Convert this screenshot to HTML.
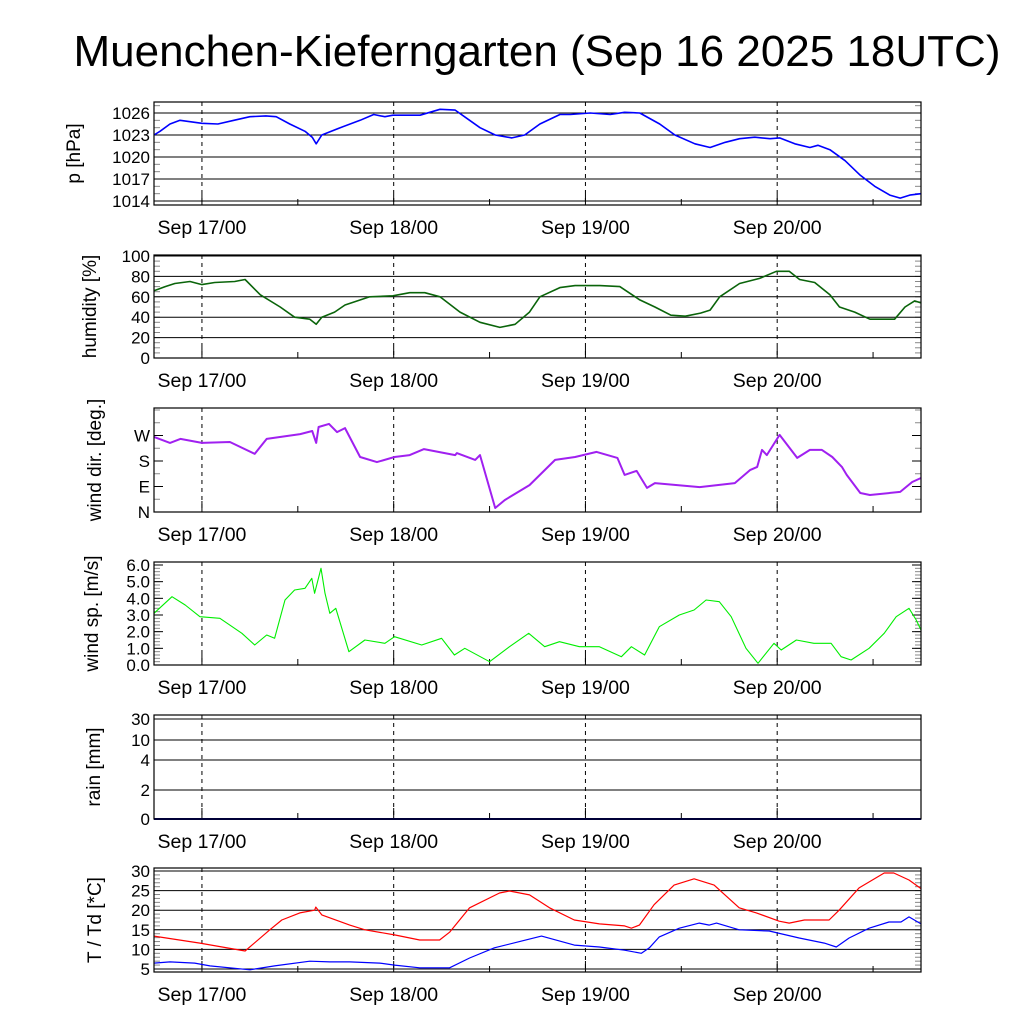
<!DOCTYPE html>
<html><head><meta charset="utf-8"><style>
html,body{margin:0;padding:0;background:#fff}
svg text{font-family:"Liberation Sans",sans-serif;fill:#000}
</style></head><body>
<svg id="chart" xmlns="http://www.w3.org/2000/svg" width="1024" height="1024" viewBox="0 0 1024 1024">
<rect width="1024" height="1024" fill="#fff"/>
<text x="537" y="66" font-size="44" text-anchor="middle">Muenchen-Kieferngarten (Sep 16 2025 18UTC)</text>
<g id="g"></g>
</svg>
<script>
// hours since Sep 16 18UTC
const dayLabels = ["Sep 17/00","Sep 18/00","Sep 19/00","Sep 20/00"];
const dayHours = [6,30,54,78];
const pTicks = [1014,1017,1020,1023,1026];
const humTicks = [0,20,40,60,80,100];
const dirTicks = [0,90,180,270];
const dirLabels = ["N","E","S","W"];
const wsTicks = [0,1,2,3,4,5,6];
const rainTicks = [0,2,4,10,30];
const tTicks = [5,10,15,20,25,30];

const pH = [0,0.75,2,3.25,6,8,10,12,14,15.3,17,18.9,19.8,20.3,21,23.3,25.8,27.5,28.9,29.9,33.3,35.8,37.7,39.5,40.8,42.7,44.8,46.4,48.3,50.8,52.1,54.6,57.1,58.9,60.8,63.3,65.2,67.7,69.6,71.5,73.3,75.2,77.1,78.3,80.2,82.1,83.1,84.6,86.5,88.4,90.2,92.1,93.4,94.6,96];
const pV = [1023,1023.5,1024.5,1025,1024.6,1024.5,1025,1025.5,1025.6,1025.5,1024.5,1023.5,1022.7,1021.8,1023,1024,1025,1025.8,1025.5,1025.7,1025.7,1026.5,1026.4,1025,1024,1023,1022.6,1023,1024.5,1025.8,1025.8,1026,1025.8,1026.1,1026,1024.5,1023,1021.8,1021.3,1022,1022.5,1022.7,1022.5,1022.6,1021.8,1021.3,1021.6,1021,1019.5,1017.5,1016,1014.8,1014.4,1014.8,1015];

const humH = [0,1.4,2.6,4.5,6,7.6,10.1,11.4,13.3,15.8,17.6,19.5,20.3,21,22.6,23.9,27,29.9,32,33.9,35.8,38.3,40.8,43.3,45.2,47,48.3,50.8,52.7,55.8,58.3,60.8,62.7,64.7,66.5,68.4,69.6,70.8,73.3,75.8,77.9,79.5,80.8,82.7,84.6,85.8,87.7,89.6,92.7,94,95.2,96];
const humV = [66,70,73,75,72,74,75,77,62,50,40,38,33,40,45,52,60,61,64,64,60,45,35,30,33,45,60,69,71,71,70,57,50,42,41,44,47,60,73,78,85,85,77,74,62,50,45,38,38,50,56,54];

const dirH = [0,2,3.3,6,9.5,12.6,14.1,18.3,19.8,20.3,20.6,21.9,22.9,23.9,25.8,27.9,30.1,32,33.8,37.7,37.9,40.2,40.8,42.7,43.9,47,50.2,52.7,55.4,58,58.9,60.4,61.7,62.7,68.3,72.7,74.6,75.5,76.1,76.7,78.3,80.5,82.1,83.6,84.9,86.1,86.7,88.4,89.6,93.4,94.9,96];
const dirV = [265,244,258,244,247,205,258,275,286,244,300,311,282,296,194,176,194,201,222,201,208,184,201,14,42,95,184,194,212,191,131,145,85,102,88,102,148,159,219,201,272,191,219,219,194,159,131,67,60,71,106,120];

const wsH = [0,2.25,3.9,5.75,8.25,11,12.6,14.1,15.1,16.4,17.6,18.9,19.75,20.1,20.9,21.4,22,22.75,24.4,26.4,28.9,30.1,33.5,36,37.6,38.9,42,44.5,46.9,48.9,50.75,53.25,55.75,58.5,59.75,61.4,63.25,65.75,67.6,69.1,70.75,72.25,74.1,75.6,77.6,78.5,80.4,82.6,84.75,86,87.25,89.5,91.4,92.9,94.5,95.4,96];
const wsV = [3.1,4.1,3.6,2.9,2.8,1.9,1.2,1.8,1.6,3.9,4.5,4.6,5.2,4.3,5.8,4.3,3.1,3.4,0.8,1.5,1.3,1.7,1.2,1.6,0.6,1.0,0.2,1.1,1.9,1.1,1.4,1.1,1.1,0.5,1.1,0.6,2.3,3.0,3.3,3.9,3.8,2.9,1.0,0.1,1.3,0.9,1.5,1.3,1.3,0.5,0.3,1.0,1.9,2.9,3.4,2.7,2.1];

const rainH = [0,96];
const rainV = [0,0];

const tH = [0,5.75,11.4,14.5,16,18.25,20.1,20.25,21,24.5,26.4,30.1,33.25,35.75,37,39.5,43.25,44.5,47,49.5,52.6,55.75,58.9,59.75,60.75,62.6,65.1,67.6,70.1,73.25,75.4,78.25,79.5,81.4,84.5,85.75,88.25,91.4,92.6,94.5,96];
const tV = [13.4,11.6,9.6,15,17.5,19.3,20,20.8,18.8,16.2,15,13.7,12.4,12.4,14.4,20.6,24.4,24.9,23.9,20.6,17.5,16.5,16,15.4,16.2,21.4,26.4,28,26.4,20.6,19.3,17.2,16.7,17.5,17.5,20,25.7,29.5,29.5,27.7,25.5];
const tdH = [0,2,5.1,7,12,15.1,19.5,22,24.5,28.25,30.1,33.25,37,39.5,42.6,45.75,48.5,52.6,55.75,58.9,61,62,63.25,65.75,68.25,69.5,70.4,73.25,77,80.75,83.9,85.4,87,89.5,92,93.5,94.5,96];
const tdV = [6.5,6.8,6.5,5.8,4.8,5.8,7,6.8,6.8,6.5,6,5.3,5.3,7.8,10.4,12,13.4,11.1,10.6,9.8,9,10.4,13.2,15.4,16.7,16.2,16.7,15,14.7,12.9,11.6,10.6,12.9,15.4,17,17,18.3,16.5];

const X0 = 154, X1 = 921, HOURS = 96;
const xs = h => X0 + h * (X1 - X0) / HOURS;
const NS = "http://www.w3.org/2000/svg";
const G = document.getElementById('g');
function mk(tag, attrs, parent) {
  const e = document.createElementNS(NS, tag);
  for (const k in attrs) e.setAttribute(k, attrs[k]);
  (parent || G).appendChild(e);
  return e;
}
function lin(v0, y0, v1, y1) { return v => y0 + (v - v0) * (y1 - y0) / (v1 - v0); }
const rainKeysV = [0, 2, 4, 10, 30, 60];
const rainKeysF = [0, 0.29, 0.59, 0.79, 1.0, 1.04];
function rainScale(v) {
  for (let i = 0; i < rainKeysV.length - 1; i++) {
    if (v <= rainKeysV[i + 1]) {
      const f = rainKeysF[i] + (v - rainKeysV[i]) / (rainKeysV[i + 1] - rainKeysV[i]) * (rainKeysF[i + 1] - rainKeysF[i]);
      return 819 - f * 100;
    }
  }
  return 715;
}

const panels = [
  {name:"pressure", top:102, bot:205, title:"p [hPa]", tx:80, ys:lin(1026,113,1023,135), ticks:pTicks, labels:pTicks.map(String), grid:true, minor:1,
   series:[{h:pH, v:pV, c:"#0000ff", w:1.6, n:"pressure-line"}]},
  {name:"humidity", top:255, bot:358, title:"humidity [%]", tx:96, ys:lin(0,358,100,256), ticks:humTicks, labels:humTicks.map(String), grid:true, minor:5,
   series:[{h:humH, v:humV, c:"#0a640a", w:1.6, n:"humidity-line"}]},
  {name:"wind-direction", top:408, bot:512, title:"wind dir. [deg.]", tx:101, ys:lin(0,512,90,486.5), ticks:dirTicks, labels:dirLabels, grid:false, minor:45,
   series:[{h:dirH, v:dirV, c:"#a020f0", w:2, n:"wind-direction-line"}]},
  {name:"wind-speed", top:562, bot:665, title:"wind sp. [m/s]", tx:98, ys:lin(0,665,6,565), ticks:wsTicks, labels:wsTicks.map(v=>v.toFixed(1)), grid:false, minor:0.2,
   series:[{h:wsH, v:wsV, c:"#00ee00", w:1.1, n:"wind-speed-line"}]},
  {name:"rain", top:715, bot:819, title:"rain [mm]", tx:100, ys:rainScale, ticks:rainTicks, labels:rainTicks.map(String), grid:true, minor:0,
   series:[{h:rainH, v:rainV, c:"#00008b", w:2, n:"rain-line"}]},
  {name:"temperature", top:868, bot:972, title:"T / Td [*C]", tx:101, ys:lin(5,969,30,871), ticks:tTicks, labels:tTicks.map(String), grid:true, minor:1,
   series:[{h:tH, v:tV, c:"#ff0000", w:1.2, n:"temperature-line"},{h:tdH, v:tdV, c:"#0000ff", w:1.2, n:"dewpoint-line"}]}
];

panels.forEach(p => {
  const g = mk('g', {});
  
  
  if (p.minor) {
    const lo = p.ticks[0], hi = p.ticks[p.ticks.length-1] + p.minor*20;
    for (let v = lo; v <= hi + 1e-9; v += p.minor) {
      const y = p.ys(v);
      if (y < p.top || y > p.bot) continue;
      mk('line', {x1:X0, x2:X0+6, y1:y, y2:y, stroke:"#888", "stroke-width":1}, g);
      mk('line', {x1:X1-6, x2:X1, y1:y, y2:y, stroke:"#888", "stroke-width":1}, g);
    }
  }
  p.ticks.forEach((v, i) => {
    const y = p.ys(v);
    if (p.grid) mk('line', {x1:X0, x2:X1, y1:y, y2:y, stroke:"#000", "stroke-width":1}, g);
    else {
      mk('line', {x1:X0, x2:X0+9, y1:y, y2:y, stroke:"#000", "stroke-width":1}, g);
      mk('line', {x1:X1-9, x2:X1, y1:y, y2:y, stroke:"#000", "stroke-width":1}, g);
    }
    const t = mk('text', {x:150, y:y+6, "font-size":17, "text-anchor":"end"}, g);
    
    
    t.textContent = p.labels[i];
  });
  for (let h = 6; h < HOURS; h += 12) {
    const x = xs(h);
    const major = dayHours.includes(h);
    if (major) mk('line', {x1:x, x2:x, y1:p.top, y2:p.bot, stroke:"#000", "stroke-width":1, "stroke-dasharray":"4,4"}, g);
    mk('line', {x1:x, x2:x, y1:p.bot-(major?11:6), y2:p.bot, stroke:"#000", "stroke-width":1}, g);
  }
  p.series.forEach(s => {
    const d = s.h.map((h, i) => (i ? 'L' : 'M') + xs(h).toFixed(1) + ',' + p.ys(s.v[i]).toFixed(1)).join('');
    const path = mk('path', {d:d, fill:"none", stroke:s.c, "stroke-width":s.w, "stroke-linejoin":"round"}, g);
    
    
  });
  mk('rect', {x:X0, y:p.top, width:X1-X0, height:p.bot-p.top, fill:"none", stroke:"#000", "stroke-width":1.2}, g);
  dayLabels.forEach((lab, i) => {
    const t = mk('text', {x:xs(dayHours[i]), y:p.bot+29, "font-size":19.5, "text-anchor":"middle"}, g);
    
    
    t.textContent = lab;
  });
  const cy = (p.top + p.bot) / 2;
  const tt = mk('text', {x:0, y:0, "font-size":19, "text-anchor":"middle", transform:"translate(" + p.tx + "," + cy + ") rotate(-90)"}, g);
  
  
  tt.textContent = p.title;
});
</script>
</body></html>
